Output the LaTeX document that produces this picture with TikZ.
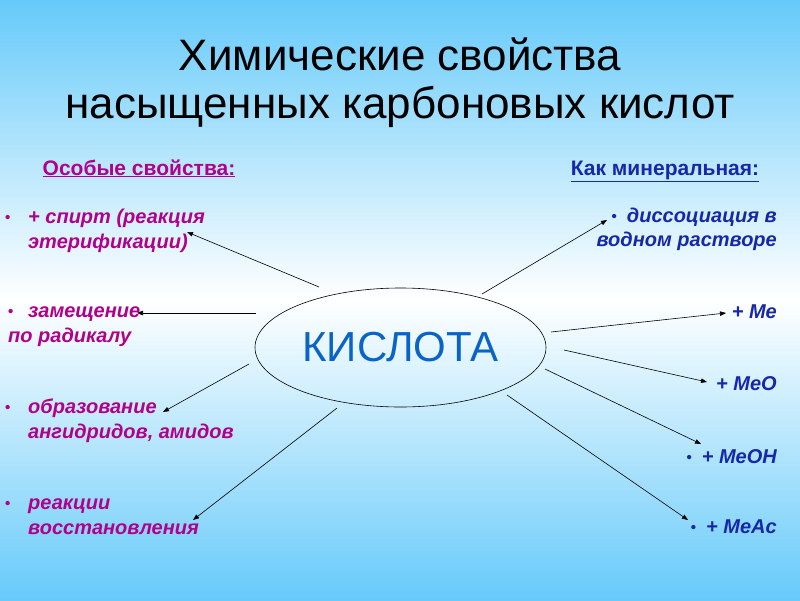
\documentclass[tikz,border=0pt]{standalone}
\usepackage{fontspec}
\setmainfont{Liberation Sans}
\newfontfamily\titlefont{Liberation Sans}
\usepackage{tikz}
\usetikzlibrary{arrows.meta,shapes.geometric}

\definecolor{pinktext}{RGB}{176,0,140}
\definecolor{bluetext}{RGB}{22,40,168}
\definecolor{acidblue}{RGB}{10,100,200}
\definecolor{skyblue}{RGB}{102,202,250}

\newcommand{\itembullet}{\raisebox{1pt}{\upshape\fontsize{15}{15}\selectfont •}}

\begin{document}
\begin{tikzpicture}[x=1pt, y=-1pt,
        title/.style={font=\titlefont\fontsize{44}{48}\selectfont, anchor=base, inner sep=0pt},
        head/.style={font=\bfseries\fontsize{21}{24}\selectfont, anchor=base, inner sep=0pt},
        leftitem/.style={font=\bfseries\itshape\fontsize{20}{25}\selectfont, text=pinktext, align=left, anchor=base west, inner sep=0pt},
        rightitem/.style={font=\bfseries\itshape\fontsize{20}{24}\selectfont, text=bluetext, align=right, anchor=base east, inner sep=0pt},
        acid/.style={draw, ellipse, line width=0.6pt, minimum width=291pt, minimum height=119pt, font=\fontsize{42}{46}\selectfont, text=acidblue},
        arrow/.style={-{Triangle[length=6pt,width=4.5pt]}, line width=0.6pt}
    ]

    % Background
    \useasboundingbox (0,0) rectangle (800,600);
    \shade[top color=skyblue, bottom color=skyblue, middle color=white] (0,0) rectangle (800,600);

    % Title
    \node[title] (title1) at (400,70) {Химические свойства};
    \node[title] (title2) at (400,118) {насыщенных карбоновых кислот};

    % Column headings
    \node[head, text=pinktext] (special) at (139,175) {\underline{Особые свойства:}};
    \node[head, text=bluetext] (mineral) at (665,175) {\underline{Как минеральная:}};

    % Centre
    \node[acid] (kislota) at (400.5,347.5) {КИСЛОТА};

    % Left column (base = last line)
    \node[leftitem] (spirt) at (5,248) {\makebox[23pt][l]{\itembullet}+ спирт (реакция\\\hspace*{23pt}этерификации)};
    \node[leftitem] (zamesh) at (8,342) {\makebox[20pt][l]{\itembullet}замещение\\по радикалу};
    \node[leftitem] (obraz) at (5,438) {\makebox[23pt][l]{\itembullet}образование\\\hspace*{23pt}ангидридов, амидов};
    \node[leftitem] (vosst) at (5,534) {\makebox[23pt][l]{\itembullet}реакции\\\hspace*{23pt}восстановления};

    % Right column
    \node[rightitem] (dissoc) at (777,246) {\itembullet\hspace{10pt}диссоциация в\\водном растворе};
    \node[rightitem] (me) at (777,318) {+ Me};
    \node[rightitem] (meo) at (777,390) {+ MeO};
    \node[rightitem] (meoh) at (777,463) {\itembullet\hspace{10pt}+ MeOH};
    \node[rightitem] (meac) at (777,533) {\itembullet\hspace{10pt}+ MeAc};

    % Arrow ends
    \coordinate (s1) at (319,287);  \coordinate (t1) at (187,232);
    \coordinate (s2) at (256,313);  \coordinate (t2) at (137,313);
    \coordinate (s3) at (249,364);  \coordinate (t3) at (163,412);
    \coordinate (s4) at (337,408);  \coordinate (t4) at (193,520);
    \coordinate (s5) at (482,294);  \coordinate (t5) at (607,220);
    \coordinate (s6) at (551,332);  \coordinate (t6) at (726,313);
    \coordinate (s7) at (564,350);  \coordinate (t7) at (707,382);
    \coordinate (s8) at (545,369);  \coordinate (t8) at (701,444);
    \coordinate (s9) at (507,395);  \coordinate (t9) at (688,520);

    % Arrows
    \draw[arrow] (s1) -- (t1);
    \draw[arrow] (s2) -- (t2);
    \draw[arrow] (s3) -- (t3);
    \draw[arrow] (s4) -- (t4);
    \draw[arrow] (s5) -- (t5);
    \draw[arrow] (s6) -- (t6);
    \draw[arrow] (s7) -- (t7);
    \draw[arrow] (s8) -- (t8);
    \draw[arrow] (s9) -- (t9);

\end{tikzpicture}
\end{document}
